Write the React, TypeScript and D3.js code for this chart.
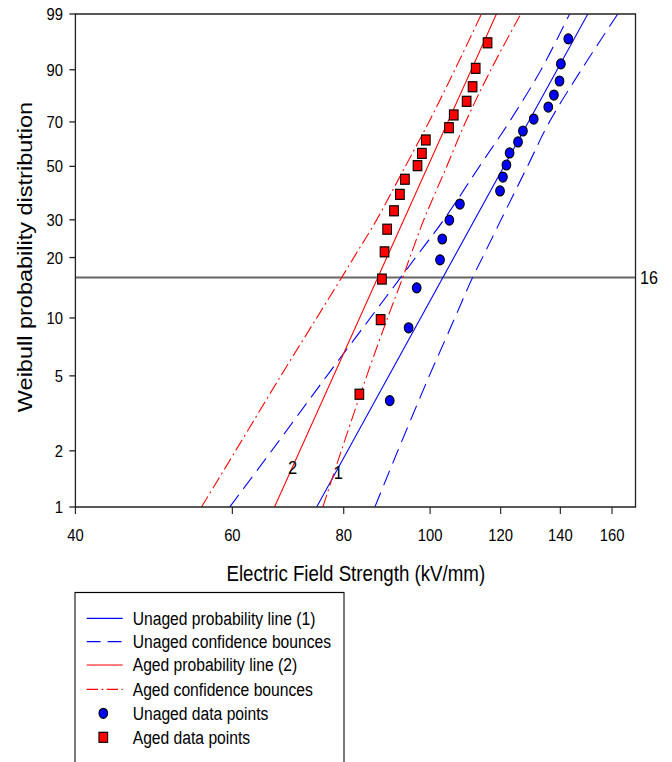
import React from "react";
import * as d3 from "d3";

// ---------- data ----------
const probTicks = [1, 2, 5, 10, 20, 30, 50, 70, 90, 99];
const fieldTicks = [40, 60, 80, 100, 120, 140, 160];

const unagedField = [90.1, 94.6, 96.6, 102.6, 103.2, 105.1, 108.0, 119.8, 120.7, 121.8, 122.8, 125.5, 127.1, 130.7, 135.7, 137.7, 139.7, 140.2, 142.9];
const unagedProb = [3.7, 8.9, 14.2, 19.5, 24.5, 29.9, 35.2, 40.0, 45.5, 50.6, 55.9, 60.9, 65.9, 71.3, 76.5, 81.4, 86.5, 91.6, 96.6];

const agedField = [83.3, 88.0, 88.3, 88.9, 89.5, 91.1, 92.5, 93.7, 96.8, 97.9, 98.9, 105.0, 106.3, 109.9, 111.6, 112.5, 116.0];
const agedProb = [4.0, 9.8, 15.7, 21.3, 27.2, 32.9, 38.7, 44.6, 50.3, 55.7, 61.8, 67.4, 73.1, 78.9, 84.5, 90.4, 96.0];

const lineProb = [1, 99];
const unagedLineField = [74.6, 150.3];
const agedLineField = [66.9, 118.7];

const boundProb = [1, 2, 5, 10, 16, 20, 30, 50, 70, 90, 99];
const unagedLower = [59.6, 66.4, 76.6, 85.7, 92.7, 96.3, 103.6, 113.6, 122.7, 133.2, 143.4];
const unagedUpper = [86.7, 92.0, 99.8, 106.6, 111.6, 114.5, 120.1, 128.6, 136.1, 147.8, 162.4];
const agedLower = [55.4, 60.5, 68.0, 74.6, 79.6, 82.1, 87.1, 93.8, 99.7, 106.6, 114.2];
const agedUpper = [75.8, 79.5, 84.9, 89.6, 93.2, 94.9, 98.4, 104.4, 109.6, 117.0, 126.4];

const refProb = 16;

const legendLabels = [
  "Unaged probability line (1)",
  "Unaged confidence bounces",
  "Aged probability line (2)",
  "Aged confidence bounces",
  "Unaged data points",
  "Aged data points",
];

// ---------- layout ----------
const W = 672;
const H = 762;
const K = 0.87; // horizontal compression of the whole picture
const P = { left: 75.4, right: 635.5, top: 14, bottom: 507 };
const FONT = "'Liberation Sans', Arial, Helvetica, sans-serif";
const BLUE = "#0000ff";
const RED = "#ff0000";
const DASH = "16 8";
const DASHDOT = "13 4 2 4";

const wt = (p: number) => Math.log(-Math.log(1 - p / 100));

export default function App() {
  const x = d3.scaleLog().domain([40, 170]).range([P.left / K, P.right / K]);
  const yLin = d3.scaleLinear().domain([wt(1), wt(99)]).range([P.bottom, P.top]);
  const y = (p: number) => yLin(wt(p));

  const curve = (fields: number[], probs: number[], smooth: boolean) => {
    const gen = d3
      .line<number>()
      .x((_, i) => x(fields[i]))
      .y((_, i) => y(probs[i]));
    if (smooth) gen.curve(d3.curveCatmullRom.alpha(0.5));
    return gen(fields) || "";
  };

  const lines = [
    { d: curve(unagedLineField, lineProb, false), color: BLUE, dash: undefined },
    { d: curve(unagedLower, boundProb, true), color: BLUE, dash: DASH },
    { d: curve(unagedUpper, boundProb, true), color: BLUE, dash: DASH },
    { d: curve(agedLineField, lineProb, false), color: RED, dash: undefined },
    { d: curve(agedLower, boundProb, true), color: RED, dash: DASHDOT },
    { d: curve(agedUpper, boundProb, true), color: RED, dash: DASHDOT },
  ];

  const legendY = [618.3, 641.7, 665, 689.3, 713.3, 737.3];
  const legendStyles = [
    { color: BLUE, dash: undefined },
    { color: BLUE, dash: DASH },
    { color: RED, dash: undefined },
    { color: RED, dash: DASHDOT },
  ];

  return (
    <svg
      width={W}
      height={H}
      style={{ position: "absolute", left: 0, top: 0, display: "block", background: "#fff" }}
      fontFamily={FONT}
    >
      <defs>
        <clipPath id="plotClip">
          <rect x={P.left / K} y={P.top} width={(P.right - P.left) / K} height={P.bottom - P.top} />
        </clipPath>
      </defs>
      <rect x={0} y={0} width={W} height={H} fill="#fff" />
      <g transform={`scale(${K},1)`}>
        {/* reference line at 16 % */}
        <line x1={P.left / K} x2={P.right / K} y1={y(refProb)} y2={y(refProb)} stroke="#666" strokeWidth={2} />
        <text x={640 / K} y={y(refProb)} dy="0.36em" fontSize={18.5} fill="#000">
          {refProb}
        </text>

        {/* probability lines and confidence bounds */}
        <g clipPath="url(#plotClip)">
          {lines.map((l, i) => (
            <path key={i} d={l.d} fill="none" stroke={l.color} strokeWidth={1.2} strokeDasharray={l.dash} />
          ))}
        </g>

        {/* line labels */}
        <text x={292.5 / K} y={474} textAnchor="middle" fontSize={19}>
          2
        </text>
        <text x={338.3 / K} y={479.3} textAnchor="middle" fontSize={19}>
          1
        </text>

        {/* data points */}
        {agedField.map((e, i) => (
          <rect
            key={"a" + i}
            x={x(e) - 5}
            y={y(agedProb[i]) - 5}
            width={10}
            height={10}
            fill={RED}
            stroke="#000"
            strokeWidth={1.2}
          />
        ))}
        {unagedField.map((e, i) => (
          <circle key={"u" + i} cx={x(e)} cy={y(unagedProb[i])} r={5} fill={BLUE} stroke="#000" strokeWidth={1.2} />
        ))}

        {/* frame */}
        <rect
          x={P.left / K}
          y={P.top}
          width={(P.right - P.left) / K}
          height={P.bottom - P.top}
          fill="none"
          stroke="#222"
          strokeWidth={1.5}
        />

        {/* left axis */}
        {probTicks.map((p) => (
          <g key={"py" + p}>
            <line x1={(P.left - 6) / K} x2={P.left / K} y1={y(p)} y2={y(p)} stroke="#222" strokeWidth={1.3} />
            <text x={63 / K} y={y(p)} dy="0.36em" textAnchor="end" fontSize={17}>
              {p}
            </text>
          </g>
        ))}

        {/* bottom axis */}
        {fieldTicks.map((f) => (
          <g key={"fx" + f}>
            <line x1={x(f)} x2={x(f)} y1={P.bottom} y2={P.bottom + 7} stroke="#222" strokeWidth={1.3} />
            <text x={x(f)} y={541} textAnchor="middle" fontSize={17}>
              {f}
            </text>
          </g>
        ))}

        {/* axis titles */}
        <text x={355.8 / K} y={581} textAnchor="middle" fontSize={21.5}>
          Electric Field Strength (kV/mm)
        </text>
        <text transform={`translate(${31.5 / K},257) rotate(-90)`} textAnchor="middle" fontSize={23.5}>
          Weibull probability distribution
        </text>

        {/* legend */}
        <rect x={75 / K} y={592.5} width={(344 - 75) / K} height={180} fill="#fff" stroke="#000" strokeWidth={1.2} />
        {legendLabels.map((lab, i) => (
          <g key={"lg" + i}>
            {i < 4 ? (
              <line
                x1={86.7 / K}
                x2={122.7 / K}
                y1={legendY[i]}
                y2={legendY[i]}
                stroke={legendStyles[i].color}
                strokeWidth={1.2}
                strokeDasharray={legendStyles[i].dash}
              />
            ) : i === 4 ? (
              <circle cx={103.3 / K} cy={legendY[i]} r={5} fill={BLUE} stroke="#000" strokeWidth={1.2} />
            ) : (
              <rect
                x={103.3 / K - 5}
                y={legendY[i] - 5}
                width={10}
                height={10}
                fill={RED}
                stroke="#000"
                strokeWidth={1.2}
              />
            )}
            <text x={132.7 / K} y={legendY[i]} dy="0.36em" fontSize={18}>
              {lab}
            </text>
          </g>
        ))}
      </g>
    </svg>
  );
}
